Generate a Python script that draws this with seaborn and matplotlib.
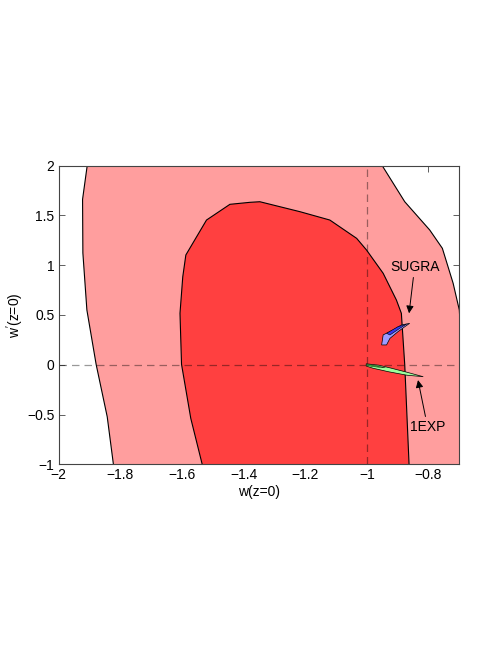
"""
Confidence regions in the w(z=0) - w'(z=0) plane.
"""
import seaborn as sns
import pandas as pd
import matplotlib.pyplot as plt

# Outer (light) region boundaries.
outer_left_x = [-1.907, -1.922, -1.921, -1.908, -1.878, -1.842, -1.822]
outer_left_y = [2.0, 1.662, 1.123, 0.55, 0.004, -0.523, -1.0]
outer_right_x = [-0.950, -0.877, -0.796, -0.755, -0.720, -0.700, -0.690, -0.680]
outer_right_y = [2.0, 1.638, 1.354, 1.17, 0.818, 0.55, 0.0, -1.0]

# Inner (dark) region boundary.
inner_x = [-1.534, -1.571, -1.601, -1.606, -1.597, -1.587, -1.520, -1.444,
           -1.379, -1.347, -1.217, -1.120, -1.033, -1.001, -0.947, -0.904,
           -0.888, -0.877, -0.863]
inner_y = [-1.0, -0.539, 0.004, 0.517, 0.884, 1.103, 1.454, 1.612,
           1.632, 1.638, 1.538, 1.454, 1.27, 1.153, 0.919, 0.650,
           0.517, 0.0, -1.0]

# SUGRA contours.
sugra_out_x = [-0.952, -0.947, -0.915, -0.888, -0.861, -0.877, -0.899, -0.925, -0.936]
sugra_out_y = [0.199, 0.30, 0.35, 0.40, 0.416, 0.382, 0.332, 0.265, 0.199]
sugra_in_x = [-0.936, -0.899, -0.871, -0.893, -0.925]
sugra_in_y = [0.316, 0.382, 0.409, 0.366, 0.299]

# 1EXP contours.
exp_out_x = [-1.002, -0.96, -0.92, -0.87, -0.817, -0.87, -0.93, -0.98, -1.002]
exp_out_y = [0.01, -0.005, -0.035, -0.075, -0.12, -0.105, -0.07, -0.035, -0.013]
exp_in_x = [-1.0, -0.97, -0.94, -0.97, -1.0]
exp_in_y = [0.005, -0.01, -0.03, -0.022, -0.008]

x_ticks = [-2, -1.8, -1.6, -1.4, -1.2, -1, -0.8]
y_ticks = [-1, -0.5, 0, 0.5, 1, 1.5, 2]


def tick_text(v):
    s = f"{v:g}"
    return s.replace("-", "\u2212")


def outline(ax, xs, ys, lw=0.8):
    df = pd.DataFrame({"x": xs, "y": ys})
    sns.lineplot(data=df, x="x", y="y", sort=False, estimator=None,
                 color="black", lw=lw, ax=ax)


sns.set_theme(style="white")
plt.rcParams["font.family"] = ["Liberation Sans", "DejaVu Sans"]
plt.rcParams["axes.unicode_minus"] = True
plt.rcParams["mathtext.fontset"] = "custom"
plt.rcParams["mathtext.rm"] = "Liberation Sans"

fig = plt.figure(figsize=(5.01, 6.48), dpi=100)
ax = fig.add_axes([0.1168, 0.2835, 0.800, 0.4608])

# Light outer region.
ax.fill(outer_left_x + outer_right_x[::-1], outer_left_y + outer_right_y[::-1],
        color="#FF9E9E", lw=0, zorder=1)
outline(ax, outer_left_x, outer_left_y)
outline(ax, outer_right_x, outer_right_y)

# Dark inner region.
ax.fill(inner_x, inner_y, color="#FF4040", lw=0, zorder=2)
outline(ax, inner_x, inner_y)

# Reference lines.
ax.axvline(-1, color="black", alpha=0.4, lw=0.9, ls=(0, (6, 4)), zorder=3)
ax.axhline(0, color="black", alpha=0.4, lw=0.9, ls=(0, (6, 4)), zorder=3)

# Small contours.
ax.fill(sugra_out_x, sugra_out_y, facecolor="#9C9CFF", edgecolor="black", lw=0.5, zorder=4)
ax.fill(sugra_in_x, sugra_in_y, facecolor="#3838F0", edgecolor="black", lw=0.4, zorder=5)
ax.fill(exp_out_x, exp_out_y, facecolor="#9CFF9C", edgecolor="black", lw=0.5, zorder=4)
ax.fill(exp_in_x, exp_in_y, facecolor="#40D040", edgecolor="black", lw=0.3, zorder=5)

# Labels with arrows.
arrow = dict(arrowstyle="-|>", color="black", lw=0.7, mutation_scale=11,
             shrinkA=0, shrinkB=0)
ax.annotate("SUGRA", xy=(-0.863, 0.517), xytext=(-0.845, 0.98),
            ha="center", va="center", fontsize=10, color="black",
            arrowprops=arrow, zorder=6)
ax.annotate("1EXP", xy=(-0.834, -0.154), xytext=(-0.803, -0.623),
            ha="center", va="center", fontsize=10, color="black",
            arrowprops=arrow, zorder=6)

ax.set_xlim(-2, -0.7)
ax.set_ylim(-1, 2)
ax.set_xticks(x_ticks)
ax.set_xticklabels([tick_text(v) for v in x_ticks])
ax.set_yticks(y_ticks)
ax.set_yticklabels([tick_text(v) for v in y_ticks])
ax.tick_params(direction="in", length=4, width=0.6, bottom=True, left=True,
               top=True, right=True, labelsize=10, colors="#444444",
               labelcolor="black", pad=3)
for sp in ax.spines.values():
    sp.set_color("#444444")
    sp.set_linewidth(0.8)
    sp.set_zorder(7)

ax.set_xlabel("w(z=0)", fontsize=10, labelpad=2, color="black")
ax.set_ylabel(r"w$^{\prime}$(z=0)", fontsize=10, color="black")
ax.yaxis.set_label_coords(-0.08, 0.5)

fig.savefig("out.png", dpi=100)
